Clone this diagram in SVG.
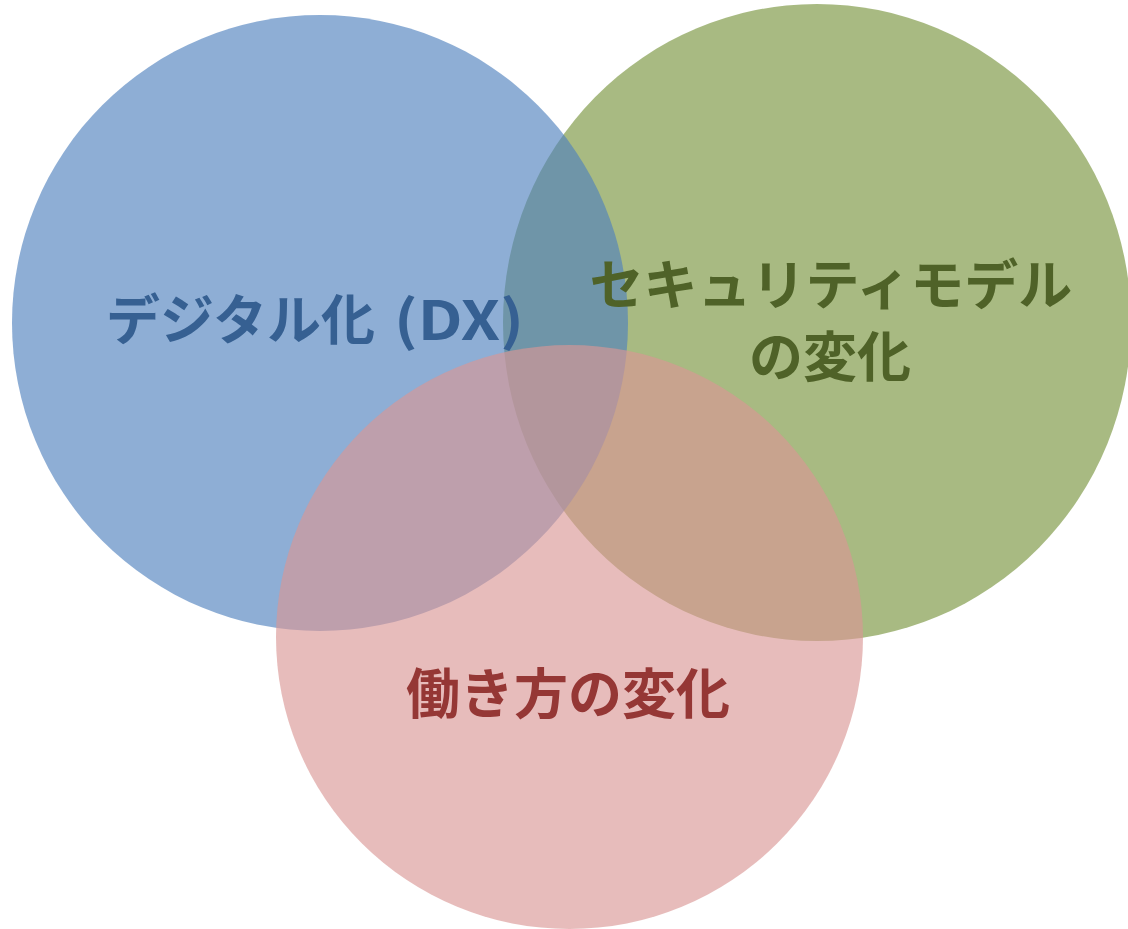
<svg xmlns="http://www.w3.org/2000/svg" width="1128" height="929" viewBox="0 0 1128 929">
<style>
.c{fill-opacity:0.64;stroke:none}
.t{font-family:"Noto Sans CJK JP","Noto Sans CJK SC",sans-serif;font-weight:bold;font-size:54px;text-anchor:middle;dominant-baseline:central}
.s{text-anchor:start}
</style>
<rect width="1128" height="929" fill="#ffffff"/>
<g id="node-security">
<ellipse class="c" cx="817" cy="322.5" rx="314" ry="318.5" fill="#77933C"/>
</g>
<g id="node-dx">
<circle class="c" cx="320" cy="323" r="308" fill="#4F81BD"/>
</g>
<g id="node-work">
<ellipse class="c" cx="569.5" cy="637" rx="293.5" ry="292" fill="#D99694"/>
</g>
<g id="labels">
<text class="t s" x="106" y="316" fill="#366092">デジタル化 <tspan x="394" textLength="130" lengthAdjust="spacingAndGlyphs">(DX)</tspan></text>
<text class="t" x="831" y="281" fill="#4F6228">セキュリティモデル</text>
<text class="t" x="830" y="353" fill="#4F6228">の変化</text>
<text class="t" x="568" y="690" fill="#953735">働き方の変化</text>
</g>
<g id="connectors"/>
</svg>
